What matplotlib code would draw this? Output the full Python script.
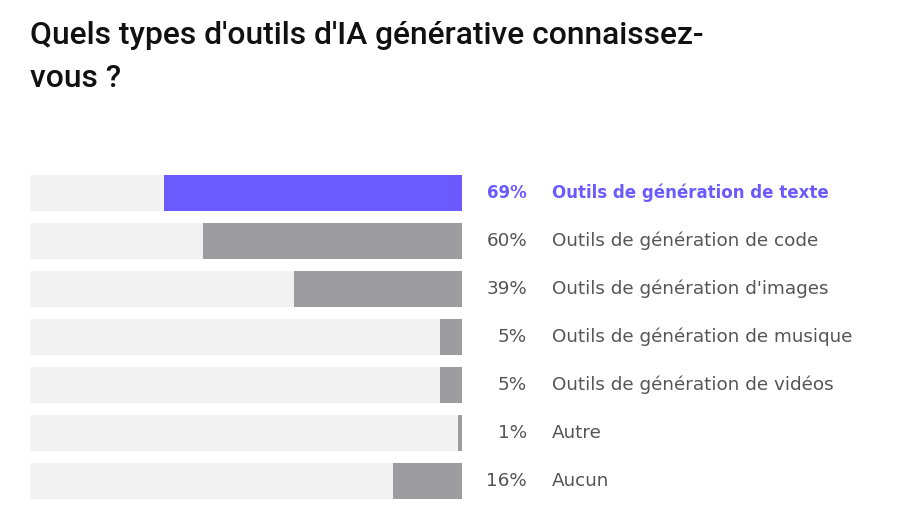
import matplotlib
matplotlib.use("Agg")
import matplotlib.pyplot as plt

labels = ["Outils de génération de texte", "Outils de génération de code",
          "Outils de génération d'images", "Outils de génération de musique",
          "Outils de génération de vidéos", "Autre", "Aucun"]
values = [69, 60, 39, 5, 5, 1, 16]
highlight = 0

purple = "#6B5BFF"
grey = "#9D9D9F"
track = "#F2F2F2"
text_grey = "#555555"

W, H = 905, 531
fig = plt.figure(figsize=(W / 100, H / 100), dpi=100)

# axes: bars span x 30..462 px, rows centered 193..481 px
ax = fig.add_axes([30 / W, 1 - 505 / H, 432 / W, 336 / H])
n = len(values)
ys = list(range(n))
ax.barh(ys, [100] * n, height=0.75, color=track, left=0)
cols = [purple if i == highlight else grey for i in range(n)]
ax.barh(ys, values, height=0.75, color=cols, left=0)
ax.set_xlim(100, 0)
ax.set_ylim(n - 0.5, -0.5)
ax.axis("off")

tr = ax.get_yaxis_transform()
for i, (v, lab) in enumerate(zip(values, labels)):
    hl = i == highlight
    c = purple if hl else text_grey
    w = "bold" if hl else "normal"
    fs = 12 if hl else 13.2
    ax.text(1.1505, i, f"{v}%", transform=tr, ha="right", va="center",
            color=c, fontsize=fs, fontweight=w, family="DejaVu Sans")
    ax.text(1.2083, i, lab, transform=tr, ha="left", va="center",
            color=c, fontsize=fs, fontweight=w, family="DejaVu Sans")

fig.text(30 / W, 1 - 44 / H, "Quels types d'outils d'IA générative connaissez-",
         ha="left", va="baseline", fontsize=22.9, fontweight="medium",
         color="#111111", family="Roboto")
fig.text(30 / W, 1 - 87 / H, "vous ?", ha="left", va="baseline",
         fontsize=22.9, fontweight="medium", color="#111111", family="Roboto")

fig.savefig("out.png", dpi=100)
